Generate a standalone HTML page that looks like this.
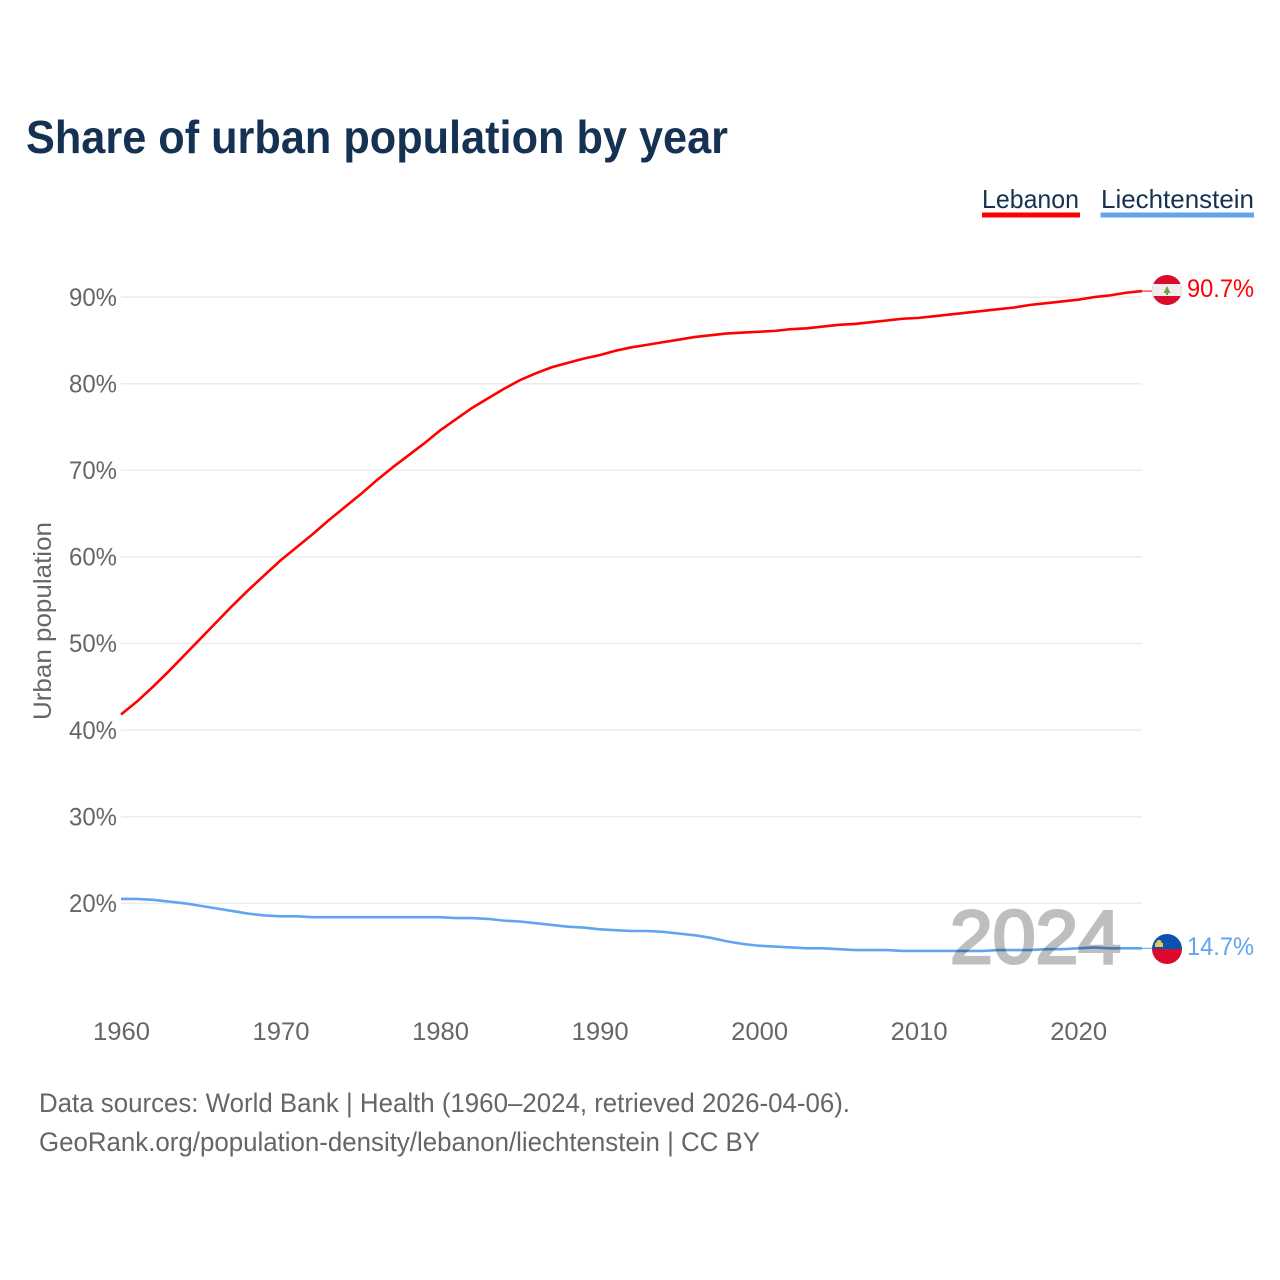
<!DOCTYPE html>
<html lang="en">
<head>
<meta charset="utf-8">
<title>Share of urban population by year</title>
<style>
html,body{margin:0;padding:0;background:#fff;}
svg{display:block;font-family:"Liberation Sans",sans-serif;}
</style>
</head>
<body>
<svg id="chart" xmlns="http://www.w3.org/2000/svg" width="1280" height="1280" viewBox="0 0 1280 1280">
  <defs>
    <clipPath id="flag-clip-lb"><circle cx="1167" cy="290" r="15"></circle></clipPath>
    <clipPath id="flag-clip-li"><circle cx="1167" cy="949" r="15"></circle></clipPath>
  </defs>
  <rect width="1280" height="1280" fill="#fff"></rect>
  <text x="26" y="153" font-size="46" font-weight="700" fill="#163253" textLength="702" lengthAdjust="spacingAndGlyphs">Share of urban population by year</text>

  <g>
    <text x="982" y="208" font-size="26" fill="#163253" textLength="97" lengthAdjust="spacingAndGlyphs">Lebanon</text>
    <rect x="982" y="212.5" width="98" height="5" fill="#ff0000"></rect>
  </g>
  <g>
    <text x="1101" y="208" font-size="26" fill="#163253" textLength="153" lengthAdjust="spacingAndGlyphs">Liechtenstein</text>
    <rect x="1100.5" y="212.5" width="153.5" height="5" fill="#60a5ee"></rect>
  </g>

  <g id="grid"></g>
  <g id="ytick-labels"></g>
  <g id="xtick-labels"></g>

  <text transform="translate(51 720) rotate(-90)" font-size="25" fill="#666" textLength="198" lengthAdjust="spacingAndGlyphs">Urban population</text>

  <g id="series"></g>

  <text x="950" y="963" font-size="75" font-weight="400" fill="#000" stroke="#000" stroke-width="3" opacity="0.25" textLength="171" lengthAdjust="spacingAndGlyphs">2024</text>

  <g clip-path="url(#flag-clip-lb)">
    <rect x="1152" y="275" width="30" height="30" fill="#dc0a2c"></rect>
    <rect x="1152" y="284" width="30" height="12" fill="#eeeeee"></rect>
    <polygon points="1167,286 1170.5,293 1168,293 1168,295 1166,295 1166,293 1163.5,293" fill="#6da544"></polygon>
  </g>
  <g clip-path="url(#flag-clip-li)">
    <rect x="1152" y="934" width="30" height="15" fill="#0a52b0"></rect>
    <rect x="1152" y="949" width="30" height="15" fill="#dc0a2c"></rect>
    <rect x="1155" y="943" width="8" height="4" fill="#f0c850"></rect>
    <circle cx="1159" cy="942.5" r="2.6" fill="#f0c850"></circle>
  </g>
  <text x="1187" y="297" font-size="25" fill="#ff0000" textLength="67" lengthAdjust="spacingAndGlyphs">90.7%</text>
  <text x="1187" y="955" font-size="25" fill="#60a5ee" textLength="67" lengthAdjust="spacingAndGlyphs">14.7%</text>

  <text x="39" y="1112" font-size="27" fill="#666" textLength="811" lengthAdjust="spacingAndGlyphs">Data sources: World Bank | Health (1960–2024, retrieved 2026-04-06).</text>
  <text x="39" y="1151" font-size="27" fill="#666" textLength="721" lengthAdjust="spacingAndGlyphs">GeoRank.org/population-density/lebanon/liechtenstein | CC BY</text>
</svg>
<script>
const years = [1960,1961,1962,1963,1964,1965,1966,1967,1968,1969,1970,1971,1972,1973,1974,1975,1976,1977,1978,1979,1980,1981,1982,1983,1984,1985,1986,1987,1988,1989,1990,1991,1992,1993,1994,1995,1996,1997,1998,1999,2000,2001,2002,2003,2004,2005,2006,2007,2008,2009,2010,2011,2012,2013,2014,2015,2016,2017,2018,2019,2020,2021,2022,2023,2024];
const lebanon = [41.8,43.3,45.0,46.8,48.7,50.6,52.5,54.4,56.2,57.9,59.6,61.1,62.6,64.2,65.7,67.2,68.8,70.3,71.7,73.1,74.6,75.9,77.2,78.3,79.4,80.4,81.2,81.9,82.4,82.9,83.3,83.8,84.2,84.5,84.8,85.1,85.4,85.6,85.8,85.9,86.0,86.1,86.3,86.4,86.6,86.8,86.9,87.1,87.3,87.5,87.6,87.8,88.0,88.2,88.4,88.6,88.8,89.1,89.3,89.5,89.7,90.0,90.2,90.5,90.7];
const liechtenstein = [20.5,20.5,20.4,20.2,20.0,19.7,19.4,19.1,18.8,18.6,18.5,18.5,18.4,18.4,18.4,18.4,18.4,18.4,18.4,18.4,18.4,18.3,18.3,18.2,18.0,17.9,17.7,17.5,17.3,17.2,17.0,16.9,16.8,16.8,16.7,16.5,16.3,16.0,15.6,15.3,15.1,15.0,14.9,14.8,14.8,14.7,14.6,14.6,14.6,14.5,14.5,14.5,14.5,14.5,14.5,14.6,14.6,14.6,14.7,14.7,14.8,14.9,14.8,14.8,14.8];
const yTicks = [20,30,40,50,60,70,80,90];
const xTicks = [1960,1970,1980,1990,2000,2010,2020];

const NS = 'http://www.w3.org/2000/svg';
function xScale(year){ return 121 + (year - 1960) * (1142 - 121) / 64; }
function yScale(v){ return 903.3 - (v - 20) * 8.66; }
function make(tag, parent){
  const el = document.createElementNS(NS, tag);
  parent.appendChild(el);
  return el;
}

const grid = document.getElementById('grid');
const yLabels = document.getElementById('ytick-labels');
const xLabels = document.getElementById('xtick-labels');
const series = document.getElementById('series');

yTicks.forEach(function(t){
  const line = make('line', grid);
  
  
  line.setAttribute('x1', 121);
  line.setAttribute('x2', 1142);
  line.setAttribute('y1', yScale(t));
  line.setAttribute('y2', yScale(t));
  line.setAttribute('stroke', '#ececec');
  line.setAttribute('stroke-width', 1.5);
  const label = make('text', yLabels);
  
  
  label.setAttribute('x', 69);
  label.setAttribute('y', yScale(t) + 8.7);
  label.setAttribute('font-size', 25);
  label.setAttribute('fill', '#666');
  label.setAttribute('textLength', 48);
  label.setAttribute('lengthAdjust', 'spacingAndGlyphs');
  label.textContent = t + '%';
});

xTicks.forEach(function(t){
  const label = make('text', xLabels);
  
  
  label.setAttribute('x', xScale(t) - 28);
  label.setAttribute('y', 1040);
  label.setAttribute('font-size', 25);
  label.setAttribute('fill', '#666');
  label.setAttribute('textLength', 57);
  label.setAttribute('lengthAdjust', 'spacingAndGlyphs');
  label.textContent = t;
});

function drawSeries(values, color, name){
  const pts = values.map(function(v, i){
    return xScale(years[i]).toFixed(2) + ',' + yScale(v).toFixed(2);
  }).join(' ');
  const line = make('polyline', series);
  
  
  line.setAttribute('points', pts);
  line.setAttribute('fill', 'none');
  line.setAttribute('stroke', color);
  line.setAttribute('stroke-width', 2.6);
  line.setAttribute('stroke-linejoin', 'round');
  const last = values[values.length - 1];
  const lastX = xScale(years[years.length - 1]);
  const link = make('line', series);
  
  
  link.setAttribute('x1', lastX);
  link.setAttribute('x2', lastX + 10);
  link.setAttribute('y1', yScale(last));
  link.setAttribute('y2', yScale(last));
  link.setAttribute('stroke', color);
  link.setAttribute('stroke-width', 1);
}
drawSeries(lebanon, '#ff0000', 'lebanon');
drawSeries(liechtenstein, '#60a5ee', 'liechtenstein');
</script>
</body>
</html>
